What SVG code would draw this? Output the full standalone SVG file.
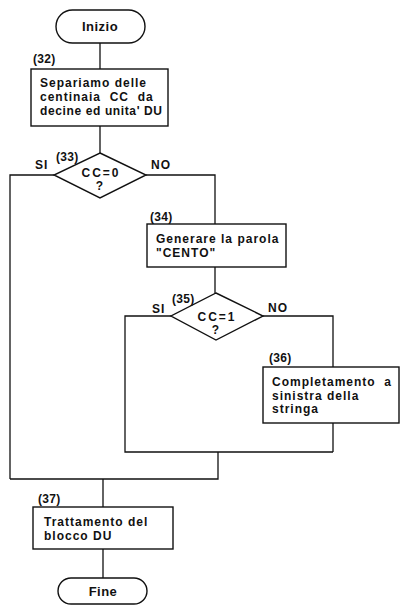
<svg xmlns="http://www.w3.org/2000/svg" width="401" height="608" viewBox="0 0 401 608">
<style>
.s{fill:#fff;stroke:#111;stroke-width:1.4}
.c{fill:none;stroke:#111;stroke-width:1.3}
text{font-family:"Liberation Sans",Arial,sans-serif;font-weight:bold;font-size:12px;letter-spacing:1px;fill:#111;white-space:pre}
.m{text-anchor:middle}
.n{letter-spacing:0.3px}
.t{font-size:13px;letter-spacing:0.5px}
.q{letter-spacing:2px}
</style>
<rect width="401" height="608" fill="#fff"/>
<g id="connectors">
<path class="c" d="M100,43V69M100,126V153M54,175H10V479M146,175H215V224M215,267V293M171,316H125V452H333M263,316H333V367M333,423V452M218,452V479H10M103,479V507M103,549V578"/>
</g>
<g id="inizio"><rect class="s" x="56" y="10" width="89" height="33" rx="16.5"/><text class="m t" x="100" y="31">Inizio</text></g>
<g id="n32"><text class="n" x="33" y="63">(32)</text><rect class="s" x="31" y="69" width="137" height="57"/>
<text x="40" y="87">Separiamo delle</text><text x="40" y="101" xml:space="preserve">centinaia  CC  da</text><text x="40" y="115" textLength="122" lengthAdjust="spacing" style="letter-spacing:0">decine ed unita' DU</text></g>
<g id="n33"><polygon class="s" points="100,153 146,175 100,198 54,175"/><text class="n" x="56" y="161">(33)</text>
<text x="35" y="169">SI</text><text x="151" y="169">NO</text>
<text class="m q" x="101" y="177">CC=0</text><text class="m" x="100" y="190">?</text></g>
<g id="n34"><text class="n" x="150" y="221">(34)</text><rect class="s" x="147" y="224" width="139" height="43"/>
<text x="156" y="243">Generare la parola</text><text x="156" y="257">"CENTO"</text></g>
<g id="n35"><polygon class="s" points="216,293 263,316 216,340 171,316"/><text class="n" x="172" y="303">(35)</text>
<text x="152" y="313">SI</text><text x="268" y="312">NO</text>
<text class="m q" x="217" y="321">CC=1</text><text class="m" x="216" y="334">?</text></g>
<g id="n36"><text class="n" x="269" y="362">(36)</text><rect class="s" x="263" y="367" width="136" height="56"/>
<text x="272" y="386" xml:space="preserve">Completamento  a</text><text x="272" y="399.5">sinistra della</text><text x="272" y="413">stringa</text></g>
<g id="n37"><text class="n" x="38" y="503">(37)</text><rect class="s" x="33" y="507" width="140" height="42"/>
<text x="44" y="526">Trattamento del</text><text x="44" y="540">blocco DU</text></g>
<g id="fine"><rect class="s" x="58" y="578" width="89" height="26" rx="13"/><text class="m t" x="103" y="596">Fine</text></g>
</svg>
